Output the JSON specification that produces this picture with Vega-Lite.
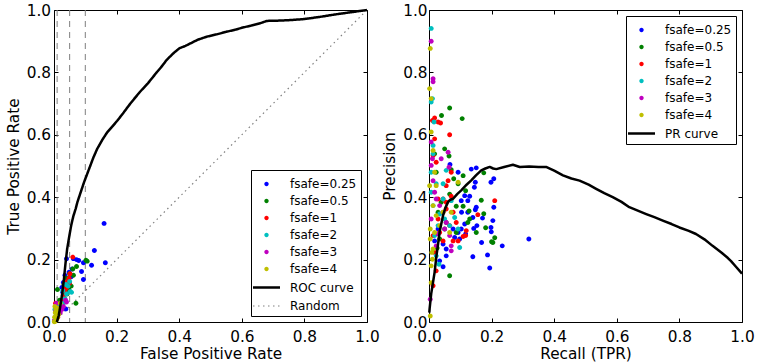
{
"$schema": "https://vega.github.io/schema/vega-lite/v6.json",
"padding": {"left": 6, "top": 2, "right": 5, "bottom": 1},
"bounds": "flush",
"spacing": 62,
"datasets": {
"vlines": [{"fpr": 0.01}, {"fpr": 0.05}, {"fpr": 0.1}],
"random": [{"fpr": 0, "tpr": 0}, {"fpr": 1, "tpr": 1}],
"roc_curve": [{"fpr":0.009,"tpr":0},{"fpr":0.015,"tpr":0.02},{"fpr":0.02,"tpr":0.05},{"fpr":0.026,"tpr":0.09},{"fpr":0.032,"tpr":0.14},{"fpr":0.037,"tpr":0.19},{"fpr":0.042,"tpr":0.234},{"fpr":0.048,"tpr":0.27},{"fpr":0.055,"tpr":0.31},{"fpr":0.062,"tpr":0.34},{"fpr":0.069,"tpr":0.362},{"fpr":0.075,"tpr":0.385},{"fpr":0.085,"tpr":0.415},{"fpr":0.096,"tpr":0.448},{"fpr":0.11,"tpr":0.485},{"fpr":0.125,"tpr":0.525},{"fpr":0.138,"tpr":0.555},{"fpr":0.155,"tpr":0.585},{"fpr":0.17,"tpr":0.608},{"fpr":0.185,"tpr":0.625},{"fpr":0.202,"tpr":0.645},{"fpr":0.22,"tpr":0.668},{"fpr":0.24,"tpr":0.695},{"fpr":0.256,"tpr":0.715},{"fpr":0.275,"tpr":0.738},{"fpr":0.3,"tpr":0.765},{"fpr":0.328,"tpr":0.8},{"fpr":0.345,"tpr":0.82},{"fpr":0.36,"tpr":0.84},{"fpr":0.38,"tpr":0.86},{"fpr":0.4,"tpr":0.877},{"fpr":0.42,"tpr":0.885},{"fpr":0.44,"tpr":0.895},{"fpr":0.46,"tpr":0.905},{"fpr":0.49,"tpr":0.915},{"fpr":0.52,"tpr":0.922},{"fpr":0.55,"tpr":0.93},{"fpr":0.58,"tpr":0.937},{"fpr":0.6,"tpr":0.943},{"fpr":0.63,"tpr":0.95},{"fpr":0.66,"tpr":0.958},{"fpr":0.68,"tpr":0.965},{"fpr":0.72,"tpr":0.966},{"fpr":0.76,"tpr":0.968},{"fpr":0.8,"tpr":0.971},{"fpr":0.85,"tpr":0.978},{"fpr":0.9,"tpr":0.986},{"fpr":0.95,"tpr":0.993},{"fpr":1,"tpr":1}],
"pr_curve": [{"recall":0.001,"precision":0.03},{"recall":0.002,"precision":0.043},{"recall":0.007,"precision":0.09},{"recall":0.013,"precision":0.128},{"recall":0.018,"precision":0.16},{"recall":0.024,"precision":0.214},{"recall":0.029,"precision":0.25},{"recall":0.034,"precision":0.289},{"recall":0.04,"precision":0.318},{"recall":0.045,"precision":0.342},{"recall":0.052,"precision":0.365},{"recall":0.061,"precision":0.385},{"recall":0.068,"precision":0.392},{"recall":0.077,"precision":0.395},{"recall":0.09,"precision":0.41},{"recall":0.103,"precision":0.422},{"recall":0.12,"precision":0.44},{"recall":0.135,"precision":0.454},{"recall":0.15,"precision":0.47},{"recall":0.167,"precision":0.486},{"recall":0.18,"precision":0.492},{"recall":0.194,"precision":0.497},{"recall":0.205,"precision":0.492},{"recall":0.215,"precision":0.49},{"recall":0.24,"precision":0.497},{"recall":0.268,"precision":0.504},{"recall":0.29,"precision":0.497},{"recall":0.32,"precision":0.498},{"recall":0.35,"precision":0.497},{"recall":0.374,"precision":0.497},{"recall":0.4,"precision":0.485},{"recall":0.428,"precision":0.47},{"recall":0.455,"precision":0.46},{"recall":0.481,"precision":0.453},{"recall":0.51,"precision":0.44},{"recall":0.534,"precision":0.427},{"recall":0.56,"precision":0.413},{"recall":0.587,"precision":0.4},{"recall":0.615,"precision":0.385},{"recall":0.64,"precision":0.368},{"recall":0.667,"precision":0.357},{"recall":0.694,"precision":0.346},{"recall":0.72,"precision":0.336},{"recall":0.747,"precision":0.325},{"recall":0.775,"precision":0.314},{"recall":0.8,"precision":0.303},{"recall":0.83,"precision":0.292},{"recall":0.853,"precision":0.282},{"recall":0.88,"precision":0.265},{"recall":0.906,"precision":0.244},{"recall":0.935,"precision":0.222},{"recall":0.955,"precision":0.205},{"recall":0.965,"precision":0.195},{"recall":0.98,"precision":0.178},{"recall":1.0,"precision":0.155}],
"roc_pts": [
{"series":"fsafe=0.25","fpr":0.16,"tpr":0.316},{"series":"fsafe=0.25","fpr":0.129,"tpr":0.229},{"series":"fsafe=0.25","fpr":0.164,"tpr":0.19},{"series":"fsafe=0.25","fpr":0.12,"tpr":0.182},{"series":"fsafe=0.25","fpr":0.094,"tpr":0.136},{"series":"fsafe=0.25","fpr":0.088,"tpr":0.162},{"series":"fsafe=0.25","fpr":0.094,"tpr":0.19},{"series":"fsafe=0.25","fpr":0.079,"tpr":0.197},{"series":"fsafe=0.25","fpr":0.072,"tpr":0.2},{"series":"fsafe=0.25","fpr":0.062,"tpr":0.203},{"series":"fsafe=0.25","fpr":0.04,"tpr":0.203},{"series":"fsafe=0.25","fpr":0.035,"tpr":0.15},{"series":"fsafe=0.25","fpr":0.03,"tpr":0.127},{"series":"fsafe=0.25","fpr":0.05,"tpr":0.12},{"series":"fsafe=0.25","fpr":0.045,"tpr":0.105},{"series":"fsafe=0.25","fpr":0.037,"tpr":0.116},{"series":"fsafe=0.25","fpr":0.038,"tpr":0.042},{"series":"fsafe=0.25","fpr":0.03,"tpr":0.07},{"series":"fsafe=0.25","fpr":0.025,"tpr":0.111},{"series":"fsafe=0.25","fpr":0.055,"tpr":0.145},{"series":"fsafe=0.25","fpr":0.048,"tpr":0.16},{"series":"fsafe=0.25","fpr":0.02,"tpr":0.06},{"series":"fsafe=0.25","fpr":0.015,"tpr":0.03},{"series":"fsafe=0.25","fpr":0.028,"tpr":0.095},{"series":"fsafe=0.25","fpr":0.058,"tpr":0.17},
{"series":"fsafe=0.5","fpr":0.102,"tpr":0.198},{"series":"fsafe=0.5","fpr":0.106,"tpr":0.195},{"series":"fsafe=0.5","fpr":0.072,"tpr":0.178},{"series":"fsafe=0.5","fpr":0.06,"tpr":0.17},{"series":"fsafe=0.5","fpr":0.062,"tpr":0.15},{"series":"fsafe=0.5","fpr":0.07,"tpr":0.06},{"series":"fsafe=0.5","fpr":0.011,"tpr":0.104},{"series":"fsafe=0.5","fpr":0.045,"tpr":0.125},{"series":"fsafe=0.5","fpr":0.04,"tpr":0.14},{"series":"fsafe=0.5","fpr":0.05,"tpr":0.155},{"series":"fsafe=0.5","fpr":0.035,"tpr":0.1},{"series":"fsafe=0.5","fpr":0.03,"tpr":0.085},{"series":"fsafe=0.5","fpr":0.025,"tpr":0.06},{"series":"fsafe=0.5","fpr":0.02,"tpr":0.045},{"series":"fsafe=0.5","fpr":0.042,"tpr":0.09},{"series":"fsafe=0.5","fpr":0.055,"tpr":0.115},{"series":"fsafe=0.5","fpr":0.015,"tpr":0.03},{"series":"fsafe=0.5","fpr":0.032,"tpr":0.12},{"series":"fsafe=0.5","fpr":0.047,"tpr":0.105},{"series":"fsafe=0.5","fpr":0.018,"tpr":0.07},
{"series":"fsafe=1","fpr":0.06,"tpr":0.208},{"series":"fsafe=1","fpr":0.051,"tpr":0.155},{"series":"fsafe=1","fpr":0.048,"tpr":0.14},{"series":"fsafe=1","fpr":0.045,"tpr":0.12},{"series":"fsafe=1","fpr":0.04,"tpr":0.11},{"series":"fsafe=1","fpr":0.035,"tpr":0.1},{"series":"fsafe=1","fpr":0.03,"tpr":0.08},{"series":"fsafe=1","fpr":0.025,"tpr":0.065},{"series":"fsafe=1","fpr":0.02,"tpr":0.05},{"series":"fsafe=1","fpr":0.015,"tpr":0.04},{"series":"fsafe=1","fpr":0.01,"tpr":0.03},{"series":"fsafe=1","fpr":0.005,"tpr":0.06},{"series":"fsafe=1","fpr":0.008,"tpr":0.02},{"series":"fsafe=1","fpr":0.042,"tpr":0.13},{"series":"fsafe=1","fpr":0.038,"tpr":0.09},{"series":"fsafe=1","fpr":0.028,"tpr":0.07},{"series":"fsafe=1","fpr":0.012,"tpr":0.015},{"series":"fsafe=1","fpr":0.05,"tpr":0.125},
{"series":"fsafe=2","fpr":0.056,"tpr":0.095},{"series":"fsafe=2","fpr":0.05,"tpr":0.13},{"series":"fsafe=2","fpr":0.045,"tpr":0.115},{"series":"fsafe=2","fpr":0.04,"tpr":0.09},{"series":"fsafe=2","fpr":0.035,"tpr":0.075},{"series":"fsafe=2","fpr":0.03,"tpr":0.06},{"series":"fsafe=2","fpr":0.025,"tpr":0.05},{"series":"fsafe=2","fpr":0.02,"tpr":0.04},{"series":"fsafe=2","fpr":0.015,"tpr":0.03},{"series":"fsafe=2","fpr":0.01,"tpr":0.02},{"series":"fsafe=2","fpr":0.005,"tpr":0.01},{"series":"fsafe=2","fpr":0.052,"tpr":0.098},{"series":"fsafe=2","fpr":0.038,"tpr":0.12},{"series":"fsafe=2","fpr":0.028,"tpr":0.1},{"series":"fsafe=2","fpr":0.012,"tpr":0.05},{"series":"fsafe=2","fpr":0.003,"tpr":0.04},
{"series":"fsafe=3","fpr":0.04,"tpr":0.064},{"series":"fsafe=3","fpr":0.037,"tpr":0.07},{"series":"fsafe=3","fpr":0.03,"tpr":0.05},{"series":"fsafe=3","fpr":0.025,"tpr":0.04},{"series":"fsafe=3","fpr":0.02,"tpr":0.03},{"series":"fsafe=3","fpr":0.015,"tpr":0.025},{"series":"fsafe=3","fpr":0.01,"tpr":0.02},{"series":"fsafe=3","fpr":0.006,"tpr":0.015},{"series":"fsafe=3","fpr":0.004,"tpr":0.01},{"series":"fsafe=3","fpr":0.002,"tpr":0.005},{"series":"fsafe=3","fpr":0.012,"tpr":0.04},{"series":"fsafe=3","fpr":0.008,"tpr":0.06},{"series":"fsafe=3","fpr":0.005,"tpr":0.035},{"series":"fsafe=3","fpr":0.018,"tpr":0.045},{"series":"fsafe=3","fpr":0.001,"tpr":0.003},
{"series":"fsafe=4","fpr":0.003,"tpr":0.002},{"series":"fsafe=4","fpr":0.005,"tpr":0.005},{"series":"fsafe=4","fpr":0.008,"tpr":0.008},{"series":"fsafe=4","fpr":0.01,"tpr":0.012},{"series":"fsafe=4","fpr":0.012,"tpr":0.02},{"series":"fsafe=4","fpr":0.015,"tpr":0.025},{"series":"fsafe=4","fpr":0.004,"tpr":0.03},{"series":"fsafe=4","fpr":0.006,"tpr":0.04},{"series":"fsafe=4","fpr":0.002,"tpr":0.015},{"series":"fsafe=4","fpr":0.001,"tpr":0.001},{"series":"fsafe=4","fpr":0.009,"tpr":0.045},{"series":"fsafe=4","fpr":0.02,"tpr":0.06},{"series":"fsafe=4","fpr":0.003,"tpr":0.05},{"series":"fsafe=4","fpr":0.007,"tpr":0.022},{"series":"fsafe=4","fpr":0.011,"tpr":0.035}
],
"pr_pts": [
{"series":"fsafe=0.25","recall":0.319,"precision":0.266},{"series":"fsafe=0.25","recall":0.234,"precision":0.244},{"series":"fsafe=0.25","recall":0.194,"precision":0.173},{"series":"fsafe=0.25","recall":0.187,"precision":0.215},{"series":"fsafe=0.25","recall":0.14,"precision":0.209},{"series":"fsafe=0.25","recall":0.168,"precision":0.255},{"series":"fsafe=0.25","recall":0.199,"precision":0.289},{"series":"fsafe=0.25","recall":0.198,"precision":0.303},{"series":"fsafe=0.25","recall":0.204,"precision":0.325},{"series":"fsafe=0.25","recall":0.207,"precision":0.368},{"series":"fsafe=0.25","recall":0.207,"precision":0.459},{"series":"fsafe=0.25","recall":0.198,"precision":0.448},{"series":"fsafe=0.25","recall":0.151,"precision":0.494},{"series":"fsafe=0.25","recall":0.135,"precision":0.49},{"series":"fsafe=0.25","recall":0.148,"precision":0.448},{"series":"fsafe=0.25","recall":0.145,"precision":0.432},{"series":"fsafe=0.25","recall":0.151,"precision":0.368},{"series":"fsafe=0.25","recall":0.148,"precision":0.36},{"series":"fsafe=0.25","recall":0.14,"precision":0.335},{"series":"fsafe=0.25","recall":0.171,"precision":0.333},{"series":"fsafe=0.25","recall":0.153,"precision":0.309},{"series":"fsafe=0.25","recall":0.143,"precision":0.3},{"series":"fsafe=0.25","recall":0.124,"precision":0.352},{"series":"fsafe=0.25","recall":0.124,"precision":0.389},{"series":"fsafe=0.25","recall":0.13,"precision":0.403},{"series":"fsafe=0.25","recall":0.114,"precision":0.405},{"series":"fsafe=0.25","recall":0.103,"precision":0.389},{"series":"fsafe=0.25","recall":0.093,"precision":0.48},{"series":"fsafe=0.25","recall":0.067,"precision":0.505},{"series":"fsafe=0.25","recall":0.098,"precision":0.266},{"series":"fsafe=0.25","recall":0.082,"precision":0.271},{"series":"fsafe=0.25","recall":0.077,"precision":0.298},{"series":"fsafe=0.25","recall":0.055,"precision":0.212},{"series":"fsafe=0.25","recall":0.045,"precision":0.177},{"series":"fsafe=0.25","recall":0.034,"precision":0.196},{"series":"fsafe=0.25","recall":0.055,"precision":0.234},{"series":"fsafe=0.25","recall":0.045,"precision":0.25},{"series":"fsafe=0.25","recall":0.029,"precision":0.298},{"series":"fsafe=0.25","recall":0.018,"precision":0.26},{"series":"fsafe=0.25","recall":0.117,"precision":0.282},{"series":"fsafe=0.25","recall":0.104,"precision":0.352},{"series":"fsafe=0.25","recall":0.093,"precision":0.287},{"series":"fsafe=0.25","recall":0.103,"precision":0.298},{"series":"fsafe=0.25","recall":0.114,"precision":0.314},
{"series":"fsafe=0.5","recall":0.066,"precision":0.148},{"series":"fsafe=0.5","recall":0.21,"precision":0.27},{"series":"fsafe=0.5","recall":0.2,"precision":0.257},{"series":"fsafe=0.5","recall":0.204,"precision":0.255},{"series":"fsafe=0.5","recall":0.181,"precision":0.302},{"series":"fsafe=0.5","recall":0.151,"precision":0.287},{"series":"fsafe=0.5","recall":0.175,"precision":0.347},{"series":"fsafe=0.5","recall":0.167,"precision":0.39},{"series":"fsafe=0.5","recall":0.175,"precision":0.478},{"series":"fsafe=0.5","recall":0.128,"precision":0.356},{"series":"fsafe=0.5","recall":0.124,"precision":0.319},{"series":"fsafe=0.5","recall":0.13,"precision":0.33},{"series":"fsafe=0.5","recall":0.109,"precision":0.371},{"series":"fsafe=0.5","recall":0.117,"precision":0.421},{"series":"fsafe=0.5","recall":0.109,"precision":0.469},{"series":"fsafe=0.5","recall":0.106,"precision":0.652},{"series":"fsafe=0.5","recall":0.066,"precision":0.686},{"series":"fsafe=0.5","recall":0.04,"precision":0.662},{"series":"fsafe=0.5","recall":0.05,"precision":0.555},{"series":"fsafe=0.5","recall":0.064,"precision":0.532},{"series":"fsafe=0.5","recall":0.071,"precision":0.488},{"series":"fsafe=0.5","recall":0.079,"precision":0.459},{"series":"fsafe=0.5","recall":0.093,"precision":0.443},{"series":"fsafe=0.5","recall":0.087,"precision":0.371},{"series":"fsafe=0.5","recall":0.066,"precision":0.41},{"series":"fsafe=0.5","recall":0.055,"precision":0.319},{"series":"fsafe=0.5","recall":0.039,"precision":0.384},{"series":"fsafe=0.5","recall":0.029,"precision":0.352},{"series":"fsafe=0.5","recall":0.034,"precision":0.266},{"series":"fsafe=0.5","recall":0.05,"precision":0.298},{"series":"fsafe=0.5","recall":0.026,"precision":0.237},{"series":"fsafe=0.5","recall":0.023,"precision":0.48},{"series":"fsafe=0.5","recall":0.018,"precision":0.539},{"series":"fsafe=0.5","recall":0.087,"precision":0.287},
{"series":"fsafe=1","recall":0.21,"precision":0.389},{"series":"fsafe=1","recall":0.156,"precision":0.344},{"series":"fsafe=1","recall":0.119,"precision":0.293},{"series":"fsafe=1","recall":0.109,"precision":0.274},{"series":"fsafe=1","recall":0.117,"precision":0.277},{"series":"fsafe=1","recall":0.066,"precision":0.6},{"series":"fsafe=1","recall":0.029,"precision":0.641},{"series":"fsafe=1","recall":0.037,"precision":0.638},{"series":"fsafe=1","recall":0.018,"precision":0.654},{"series":"fsafe=1","recall":0.011,"precision":0.646},{"series":"fsafe=1","recall":0.071,"precision":0.48},{"series":"fsafe=1","recall":0.061,"precision":0.453},{"series":"fsafe=1","recall":0.071,"precision":0.403},{"series":"fsafe=1","recall":0.045,"precision":0.394},{"series":"fsafe=1","recall":0.029,"precision":0.394},{"series":"fsafe=1","recall":0.029,"precision":0.33},{"series":"fsafe=1","recall":0.034,"precision":0.287},{"series":"fsafe=1","recall":0.013,"precision":0.277},{"series":"fsafe=1","recall":0.045,"precision":0.26},{"series":"fsafe=1","recall":0.018,"precision":0.223},{"series":"fsafe=1","recall":0.023,"precision":0.164},{"series":"fsafe=1","recall":0.013,"precision":0.116},{"series":"fsafe=1","recall":0.066,"precision":0.309},{"series":"fsafe=1","recall":0.077,"precision":0.352},{"series":"fsafe=1","recall":0.087,"precision":0.319},{"series":"fsafe=1","recall":0.055,"precision":0.362},{"series":"fsafe=1","recall":0.018,"precision":0.587},{"series":"fsafe=1","recall":0.013,"precision":0.534},{"series":"fsafe=1","recall":0.023,"precision":0.512},{"series":"fsafe=1","recall":0.055,"precision":0.437},{"series":"fsafe=1","recall":0.077,"precision":0.26},{"series":"fsafe=1","recall":0.093,"precision":0.26},{"series":"fsafe=1","recall":0.055,"precision":0.384},
{"series":"fsafe=2","recall":0.007,"precision":0.941},{"series":"fsafe=2","recall":0.011,"precision":0.716},{"series":"fsafe=2","recall":0.007,"precision":0.705},{"series":"fsafe=2","recall":0.016,"precision":0.641},{"series":"fsafe=2","recall":0.013,"precision":0.566},{"series":"fsafe=2","recall":0.013,"precision":0.539},{"series":"fsafe=2","recall":0.023,"precision":0.443},{"series":"fsafe=2","recall":0.045,"precision":0.443},{"series":"fsafe=2","recall":0.055,"precision":0.486},{"series":"fsafe=2","recall":0.071,"precision":0.389},{"series":"fsafe=2","recall":0.098,"precision":0.239},{"series":"fsafe=2","recall":0.045,"precision":0.394},{"series":"fsafe=2","recall":0.034,"precision":0.346},{"series":"fsafe=2","recall":0.029,"precision":0.309},{"series":"fsafe=2","recall":0.05,"precision":0.33},{"series":"fsafe=2","recall":0.082,"precision":0.335},{"series":"fsafe=2","recall":0.093,"precision":0.298},{"series":"fsafe=2","recall":0.023,"precision":0.212},{"series":"fsafe=2","recall":0.032,"precision":0.185},{"series":"fsafe=2","recall":0.018,"precision":0.277},{"series":"fsafe=2","recall":0.066,"precision":0.309},{"series":"fsafe=2","recall":0.013,"precision":0.373},{"series":"fsafe=2","recall":0.007,"precision":0.48},{"series":"fsafe=2","recall":0.007,"precision":0.416},
{"series":"fsafe=3","recall":0.007,"precision":0.9},{"series":"fsafe=3","recall":0.013,"precision":0.78},{"series":"fsafe=3","recall":0.013,"precision":0.77},{"series":"fsafe=3","recall":0.011,"precision":0.523},{"series":"fsafe=3","recall":0.039,"precision":0.523},{"series":"fsafe=3","recall":0.061,"precision":0.544},{"series":"fsafe=3","recall":0.064,"precision":0.496},{"series":"fsafe=3","recall":0.071,"precision":0.228},{"series":"fsafe=3","recall":0.071,"precision":0.244},{"series":"fsafe=3","recall":0.055,"precision":0.319},{"series":"fsafe=3","recall":0.034,"precision":0.373},{"series":"fsafe=3","recall":0.023,"precision":0.394},{"series":"fsafe=3","recall":0.045,"precision":0.352},{"series":"fsafe=3","recall":0.018,"precision":0.416},{"series":"fsafe=3","recall":0.029,"precision":0.282},{"series":"fsafe=3","recall":0.013,"precision":0.453},{"series":"fsafe=3","recall":0.066,"precision":0.277},{"series":"fsafe=3","recall":0.05,"precision":0.298},{"series":"fsafe=3","recall":0.023,"precision":0.244},{"series":"fsafe=3","recall":0.007,"precision":0.502},{"series":"fsafe=3","recall":0.007,"precision":0.577},{"series":"fsafe=3","recall":0.007,"precision":0.33},{"series":"fsafe=3","recall":0.004,"precision":0.073},
{"series":"fsafe=4","recall":0.004,"precision":0.877},{"series":"fsafe=4","recall":0.002,"precision":0.748},{"series":"fsafe=4","recall":0.007,"precision":0.716},{"series":"fsafe=4","recall":0.007,"precision":0.609},{"series":"fsafe=4","recall":0.013,"precision":0.55},{"series":"fsafe=4","recall":0.018,"precision":0.48},{"series":"fsafe=4","recall":0.093,"precision":0.448},{"series":"fsafe=4","recall":0.071,"precision":0.352},{"series":"fsafe=4","recall":0.066,"precision":0.287},{"series":"fsafe=4","recall":0.034,"precision":0.309},{"series":"fsafe=4","recall":0.018,"precision":0.287},{"series":"fsafe=4","recall":0.013,"precision":0.234},{"series":"fsafe=4","recall":0.011,"precision":0.201},{"series":"fsafe=4","recall":0.007,"precision":0.18},{"series":"fsafe=4","recall":0.007,"precision":0.126},{"series":"fsafe=4","recall":0.013,"precision":0.373},{"series":"fsafe=4","recall":0.023,"precision":0.437},{"series":"fsafe=4","recall":0.045,"precision":0.352},{"series":"fsafe=4","recall":0.023,"precision":0.341},{"series":"fsafe=4","recall":0.004,"precision":0.019},{"series":"fsafe=4","recall":0.004,"precision":0.266},{"series":"fsafe=4","recall":0.009,"precision":0.223},{"series":"fsafe=4","recall":0.004,"precision":0.298},{"series":"fsafe=4","recall":0.002,"precision":0.437}
]
},
"config": {
"view": {"stroke": "black", "strokeWidth": 1},
"font": "DejaVu Sans",
"axis": {"labelFont": "DejaVu Sans", "labelFontSize": 15.3, "labelColor": "black", "titleFont": "DejaVu Sans", "titleFontSize": 15.3, "titleFontWeight": "normal", "titleColor": "black", "tickColor": "black", "tickSize": -4, "tickWidth": 1, "domain": false, "grid": false, "labelFlush": false, "labelOverlap": false},
"legend": {"labelFont": "DejaVu Sans", "labelFontSize": 12, "labelColor": "black"}
},
"resolve": {"scale": {"color": "independent", "shape": "independent", "strokeDash": "independent", "strokeWidth": "independent"}, "legend": {"color": "independent", "shape": "independent", "strokeDash": "independent", "strokeWidth": "independent"}},
"hconcat": [
{
"name": "roc",
"width": 313, "height": 312,
"resolve": {"axis": {"x": "independent", "y": "independent"}},
"layer": [
{"data": {"name": "vlines"}, "mark": {"type": "rule", "color": "#7f7f7f", "strokeDash": [6, 5], "strokeWidth": 1},
 "encoding": {"x": {"field": "fpr", "type": "quantitative", "scale": {"domain": [0, 1], "nice": false, "zero": false}, "axis": null}}},
{"data": {"name": "random"}, "mark": {"type": "line", "strokeCap": "butt"},
 "encoding": {
  "x": {"field": "fpr", "type": "quantitative", "scale": {"domain": [0, 1], "nice": false}, "axis": null},
  "y": {"field": "tpr", "type": "quantitative", "scale": {"domain": [0, 1], "nice": false}, "axis": null},
  "color": {"datum": "Random", "type": "nominal", "scale": {"domain": ["fsafe=0.25","fsafe=0.5","fsafe=1","fsafe=2","fsafe=3","fsafe=4","ROC curve","Random"], "range": ["#0000ff","#008000","#ff0000","#00bfbf","#bf00bf","#bfbf00","#000000","#808080"]}},
  "strokeDash": {"datum": "Random", "type": "nominal", "scale": {"domain": ["fsafe=0.25","fsafe=0.5","fsafe=1","fsafe=2","fsafe=3","fsafe=4","ROC curve","Random"], "range": [[1,0],[1,0],[1,0],[1,0],[1,0],[1,0],[1,0],[1.5,3.5]]}},
  "strokeWidth": {"datum": "Random", "type": "nominal", "scale": {"type": "ordinal", "domain": ["fsafe=0.25","fsafe=0.5","fsafe=1","fsafe=2","fsafe=3","fsafe=4","ROC curve","Random"], "range": [0,0,0,0,0,0,2.5,1.2]}}
 }},
{"data": {"name": "roc_pts"}, "mark": {"type": "point", "filled": true, "size": 496, "opacity": 1},
 "encoding": {
  "x": {"field": "fpr", "type": "quantitative", "scale": {"domain": [0, 1], "nice": false}, "axis": {"orient": "bottom", "title": "False Positive Rate", "values": [0,0.2,0.4,0.6,0.8,1], "format": ".1f", "labelPadding": 11, "titlePadding": 2.5}},
  "y": {"field": "tpr", "type": "quantitative", "scale": {"domain": [0, 1], "nice": false}, "axis": {"orient": "left", "title": "True Positive Rate", "values": [0,0.2,0.4,0.6,0.8,1], "format": ".1f", "labelPadding": 7.5, "titlePadding": 4.5}},
  "color": {"field": "series", "type": "nominal", "scale": {"domain": ["fsafe=0.25","fsafe=0.5","fsafe=1","fsafe=2","fsafe=3","fsafe=4","ROC curve","Random"], "range": ["#0000ff","#008000","#ff0000","#00bfbf","#bf00bf","#bfbf00","#000000","#808080"]},
   "legend": {"title": null, "orient": "bottom-right", "offset": 6, "padding": 4, "strokeColor": "black", "fillColor": "white", "cornerRadius": 0, "symbolSize": 400, "labelOffset": 12, "rowPadding": 1, "symbolOpacity": 1,
    "encode": {"symbols": {"update": {"fill": {"scale": "roc_color", "field": "value"}, "stroke": {"scale": "roc_color", "field": "value"}}}}}},
  "shape": {"field": "series", "type": "nominal", "scale": {"domain": ["fsafe=0.25","fsafe=0.5","fsafe=1","fsafe=2","fsafe=3","fsafe=4","ROC curve","Random"], "range": ["M-0.22,0A0.22,0.22,0,1,0,0.22,0A0.22,0.22,0,1,0,-0.22,0Z","M-0.22,0A0.22,0.22,0,1,0,0.22,0A0.22,0.22,0,1,0,-0.22,0Z","M-0.22,0A0.22,0.22,0,1,0,0.22,0A0.22,0.22,0,1,0,-0.22,0Z","M-0.22,0A0.22,0.22,0,1,0,0.22,0A0.22,0.22,0,1,0,-0.22,0Z","M-0.22,0A0.22,0.22,0,1,0,0.22,0A0.22,0.22,0,1,0,-0.22,0Z","M-0.22,0A0.22,0.22,0,1,0,0.22,0A0.22,0.22,0,1,0,-0.22,0Z","M-1.35,0L1.35,0","M-1.35,0L1.35,0"]}},
  "strokeWidth": {"field": "series", "type": "nominal", "scale": {"type": "ordinal", "domain": ["fsafe=0.25","fsafe=0.5","fsafe=1","fsafe=2","fsafe=3","fsafe=4","ROC curve","Random"], "range": [0,0,0,0,0,0,2.5,1.2]}}
 }},
{"data": {"name": "roc_curve"}, "mark": {"type": "line", "strokeCap": "butt", "strokeJoin": "round"},
 "encoding": {
  "x": {"field": "fpr", "type": "quantitative", "scale": {"domain": [0, 1], "nice": false}, "axis": {"orient": "top", "labels": false, "title": null, "values": [0,0.2,0.4,0.6,0.8,1]}},
  "y": {"field": "tpr", "type": "quantitative", "scale": {"domain": [0, 1], "nice": false}, "axis": {"orient": "right", "labels": false, "title": null, "values": [0,0.2,0.4,0.6,0.8,1]}},
  "color": {"datum": "ROC curve", "type": "nominal", "scale": {"domain": ["fsafe=0.25","fsafe=0.5","fsafe=1","fsafe=2","fsafe=3","fsafe=4","ROC curve","Random"], "range": ["#0000ff","#008000","#ff0000","#00bfbf","#bf00bf","#bfbf00","#000000","#808080"]}},
  "strokeDash": {"datum": "ROC curve", "type": "nominal", "scale": {"domain": ["fsafe=0.25","fsafe=0.5","fsafe=1","fsafe=2","fsafe=3","fsafe=4","ROC curve","Random"], "range": [[1,0],[1,0],[1,0],[1,0],[1,0],[1,0],[1,0],[1.5,3.5]]}},
  "strokeWidth": {"datum": "ROC curve", "type": "nominal", "scale": {"type": "ordinal", "domain": ["fsafe=0.25","fsafe=0.5","fsafe=1","fsafe=2","fsafe=3","fsafe=4","ROC curve","Random"], "range": [0,0,0,0,0,0,2.5,1.2]}}
 }}
]
},
{
"name": "pr",
"width": 313, "height": 312,
"resolve": {"axis": {"x": "independent", "y": "independent"}},
"layer": [
{"data": {"name": "pr_pts"}, "mark": {"type": "point", "filled": true, "size": 496, "opacity": 1},
 "encoding": {
  "x": {"field": "recall", "type": "quantitative", "scale": {"domain": [0, 1], "nice": false}, "axis": {"orient": "bottom", "title": "Recall (TPR)", "values": [0,0.2,0.4,0.6,0.8,1], "format": ".1f", "labelPadding": 11, "titlePadding": 2.5}},
  "y": {"field": "precision", "type": "quantitative", "scale": {"domain": [0, 1], "nice": false}, "axis": {"orient": "left", "title": "Precision", "values": [0,0.2,0.4,0.6,0.8,1], "format": ".1f", "labelPadding": 6, "titlePadding": 5.5}},
  "color": {"field": "series", "type": "nominal", "scale": {"domain": ["fsafe=0.25","fsafe=0.5","fsafe=1","fsafe=2","fsafe=3","fsafe=4","PR curve"], "range": ["#0000ff","#008000","#ff0000","#00bfbf","#bf00bf","#bfbf00","#000000"]},
   "legend": {"title": null, "orient": "top-right", "offset": 6, "padding": 4, "strokeColor": "black", "fillColor": "white", "cornerRadius": 0, "symbolSize": 400, "labelOffset": 12, "rowPadding": 1, "symbolOpacity": 1,
    "encode": {"symbols": {"update": {"fill": {"scale": "pr_color", "field": "value"}, "stroke": {"scale": "pr_color", "field": "value"}}}}}},
  "shape": {"field": "series", "type": "nominal", "scale": {"domain": ["fsafe=0.25","fsafe=0.5","fsafe=1","fsafe=2","fsafe=3","fsafe=4","PR curve"], "range": ["M-0.22,0A0.22,0.22,0,1,0,0.22,0A0.22,0.22,0,1,0,-0.22,0Z","M-0.22,0A0.22,0.22,0,1,0,0.22,0A0.22,0.22,0,1,0,-0.22,0Z","M-0.22,0A0.22,0.22,0,1,0,0.22,0A0.22,0.22,0,1,0,-0.22,0Z","M-0.22,0A0.22,0.22,0,1,0,0.22,0A0.22,0.22,0,1,0,-0.22,0Z","M-0.22,0A0.22,0.22,0,1,0,0.22,0A0.22,0.22,0,1,0,-0.22,0Z","M-0.22,0A0.22,0.22,0,1,0,0.22,0A0.22,0.22,0,1,0,-0.22,0Z","M-1.35,0L1.35,0"]}},
  "strokeWidth": {"field": "series", "type": "nominal", "scale": {"type": "ordinal", "domain": ["fsafe=0.25","fsafe=0.5","fsafe=1","fsafe=2","fsafe=3","fsafe=4","PR curve"], "range": [0,0,0,0,0,0,2.5]}}
 }},
{"data": {"name": "pr_curve"}, "mark": {"type": "line", "strokeCap": "butt", "strokeJoin": "round"},
 "encoding": {
  "x": {"field": "recall", "type": "quantitative", "scale": {"domain": [0, 1], "nice": false}, "axis": {"orient": "top", "labels": false, "title": null, "values": [0,0.2,0.4,0.6,0.8,1]}},
  "y": {"field": "precision", "type": "quantitative", "scale": {"domain": [0, 1], "nice": false}, "axis": {"orient": "right", "labels": false, "title": null, "values": [0,0.2,0.4,0.6,0.8,1]}},
  "color": {"datum": "PR curve", "type": "nominal", "scale": {"domain": ["fsafe=0.25","fsafe=0.5","fsafe=1","fsafe=2","fsafe=3","fsafe=4","PR curve"], "range": ["#0000ff","#008000","#ff0000","#00bfbf","#bf00bf","#bfbf00","#000000"]}},
  "strokeWidth": {"datum": "PR curve", "type": "nominal", "scale": {"type": "ordinal", "domain": ["fsafe=0.25","fsafe=0.5","fsafe=1","fsafe=2","fsafe=3","fsafe=4","PR curve"], "range": [0,0,0,0,0,0,2.5]}}
 }}
]
}
]
}
